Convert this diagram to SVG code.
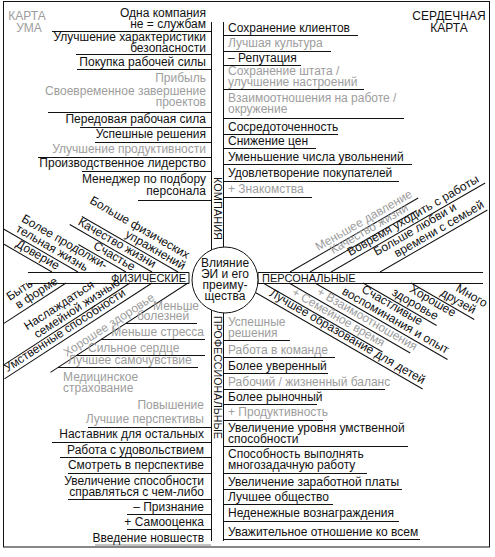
<svg xmlns="http://www.w3.org/2000/svg" width="495" height="557" viewBox="0 0 495 557">
<style>
text{font-family:"Liberation Sans",Arial,Helvetica,sans-serif;font-size:12px;fill:#111}
.g{fill:#9d9d9d}
.e{text-anchor:end}
.m{text-anchor:middle}
.s{font-size:11px}
#connectors line{stroke:#111;stroke-width:1}
#connectors line.gl{stroke:#888}
</style>
<rect width="495" height="557" fill="#fff"/>
<rect x="3.5" y="1.5" width="486" height="545.5" fill="none" stroke="#111"/>
<g id="connectors">
 <line x1="52" y1="31.5" x2="211" y2="31.5"/>
 <line x1="76" y1="54.5" x2="211" y2="54.5"/>
 <line x1="77" y1="69.5" x2="211" y2="69.5"/>
 <line x1="48" y1="112.5" x2="211" y2="112.5"/>
 <line x1="80" y1="127.5" x2="211" y2="127.5"/>
 <line x1="95" y1="142.5" x2="211" y2="142.5"/>
 <line x1="38" y1="157.5" x2="211" y2="157.5"/>
 <line x1="82" y1="171.5" x2="211" y2="171.5"/>
 <line x1="138" y1="200.5" x2="211" y2="200.5"/>
 <line x1="223" y1="35.5" x2="358" y2="35.5"/>
 <line x1="223" y1="51.5" x2="331" y2="51.5"/>
 <line x1="223" y1="65.5" x2="301" y2="65.5"/>
 <line x1="223" y1="89.5" x2="364" y2="89.5"/>
 <line x1="223" y1="118.5" x2="404" y2="118.5"/>
 <line x1="223" y1="134.5" x2="338" y2="134.5"/>
 <line x1="223" y1="148.5" x2="316" y2="148.5"/>
 <line x1="223" y1="164.5" x2="412" y2="164.5"/>
 <line x1="223" y1="181.5" x2="399" y2="181.5"/>
 <line x1="223" y1="197.5" x2="312" y2="197.5"/>
 <line x1="223" y1="340.5" x2="290" y2="340.5"/>
 <line x1="223" y1="357.5" x2="335" y2="357.5"/>
 <line x1="223" y1="373.5" x2="328" y2="373.5"/>
 <line x1="223" y1="389.5" x2="385" y2="389.5"/>
 <line x1="223" y1="404.5" x2="317" y2="404.5"/>
 <line x1="223" y1="420.5" x2="323" y2="420.5"/>
 <line x1="223" y1="446.5" x2="408" y2="446.5"/>
 <line x1="223" y1="473.5" x2="367" y2="473.5"/>
 <line x1="223" y1="489.5" x2="402" y2="489.5"/>
 <line x1="223" y1="504.5" x2="333" y2="504.5"/>
 <line x1="223" y1="521.5" x2="399" y2="521.5"/>
 <line x1="223" y1="539.5" x2="420" y2="539.5"/>
 <line x1="88" y1="427.5" x2="211" y2="427.5"/>
 <line x1="52" y1="442.5" x2="211" y2="442.5"/>
 <line x1="60" y1="457.5" x2="211" y2="457.5"/>
 <line x1="68" y1="473.5" x2="211" y2="473.5"/>
 <line x1="68" y1="499.5" x2="211" y2="499.5"/>
 <line x1="127" y1="514.5" x2="211" y2="514.5"/>
 <line x1="127" y1="529.5" x2="211" y2="529.5"/>
 <line class="gl" x1="95" y1="545" x2="211" y2="545"/>
 <line x1="126" y1="323.5" x2="197" y2="323.5"/>
 <line x1="101" y1="339.5" x2="205" y2="339.5"/>
 <line x1="76" y1="355.5" x2="205" y2="355.5"/>
 <line x1="58" y1="367.5" x2="198" y2="367.5"/>
 <line x1="211.5" y1="22" x2="211.5" y2="250"/>
 <line x1="223.5" y1="22" x2="223.5" y2="247"/>
 <line x1="211.5" y1="310" x2="211.5" y2="541"/>
 <line x1="223.5" y1="313" x2="223.5" y2="541"/>
 <line x1="28" y1="272.5" x2="189" y2="272.5"/>
 <line x1="28" y1="283.5" x2="189" y2="283.5"/>
 <line x1="189" y1="272.5" x2="189" y2="283.5"/>
 <line x1="258" y1="272.5" x2="483" y2="272.5"/>
 <line x1="258" y1="283.5" x2="483" y2="283.5"/>
 <line x1="258" y1="272.5" x2="258" y2="283.5"/>
 <line transform="translate(178,272) rotate(30)" x1="-111" y1="0" x2="0" y2="0"/>
 <line transform="translate(152,272) rotate(30)" x1="-95" y1="0" x2="0" y2="0"/>
 <line transform="translate(126,272) rotate(30)" x1="-55" y1="0" x2="0" y2="0"/>
 <line transform="translate(78,272) rotate(30)" x1="-85.5" y1="0" x2="0" y2="0"/>
 <line transform="translate(52,272) rotate(30)" x1="-55.4" y1="0" x2="0" y2="0"/>
 <line transform="translate(188,283) rotate(-33)" x1="-164" y1="0" x2="0" y2="0"/>
 <line transform="translate(152,283) rotate(-33)" x1="-176" y1="0" x2="0" y2="0"/>
 <line transform="translate(130,283) rotate(-33)" x1="-150" y1="0" x2="0" y2="0"/>
 <line transform="translate(66,283) rotate(-33)" x1="-74" y1="0" x2="0" y2="0"/>
 <line transform="translate(290,272) rotate(-30)" x1="0" y1="0" x2="148" y2="0"/>
 <line transform="translate(310,272) rotate(-30)" x1="0" y1="0" x2="123" y2="0"/>
 <line transform="translate(331,272) rotate(-30)" x1="0" y1="0" x2="178" y2="0"/>
 <line transform="translate(380,272) rotate(-30)" x1="0" y1="0" x2="124" y2="0"/>
 <line transform="translate(239,283) rotate(30)" x1="19" y1="0" x2="212" y2="0"/>
 <line transform="translate(263,283) rotate(30)" x1="0" y1="0" x2="138" y2="0"/>
 <line transform="translate(289,283) rotate(30)" x1="0" y1="0" x2="140" y2="0"/>
 <line transform="translate(315,283) rotate(30)" x1="0" y1="0" x2="153" y2="0"/>
 <line transform="translate(363,283) rotate(30)" x1="0" y1="0" x2="85" y2="0"/>
 <line transform="translate(411,283) rotate(30)" x1="0" y1="0" x2="73" y2="0"/>
</g>
<g id="title-mind"><text class="g m" x="27" y="20">КАРТА</text><text class="g m" x="29" y="32">УМА</text></g>
<g id="title-heart"><text class="m" x="449" y="20">СЕРДЕЧНАЯ</text><text class="m" x="449" y="32">КАРТА</text></g>
<g id="center"><circle cx="225" cy="280" r="33" fill="#fff" stroke="#111"/>
 <text class="m" x="225" y="267">Влияние</text><text class="m" x="225" y="278">ЭИ и его</text><text class="m" x="225" y="289">преиму-</text><text class="m" x="225" y="300">щества</text></g>
<g id="label-company"><text class="s" transform="translate(213.5,177) rotate(90)">КОМПАНИЯ</text></g>
<g id="label-prof"><text class="s" transform="translate(213.5,316) rotate(90)" textLength="123" lengthAdjust="spacingAndGlyphs">ПРОФЕССИОНАЛЬНЫЕ</text></g>
<g id="label-phys"><text class="s e" x="186" y="281.5">ФИЗИЧЕСКИЕ</text></g>
<g id="label-pers"><text class="s" x="262" y="281.5">ПЕРСОНАЛЬНЫЕ</text></g>
<g id="company-left">
 <g id="cl1"><text class="e" x="206" y="17">Одна компания</text><text class="e" x="206" y="28">не = службам</text></g>
 <g id="cl2"><text class="e" x="206" y="41">Улучшение характеристики</text><text class="e" x="206" y="52">безопасности</text></g>
 <g id="cl3"><text class="e" x="206" y="66">Покупка рабочей силы</text></g>
 <g id="cl4"><text class="e g" x="206" y="82">Прибыль</text></g>
 <g id="cl5"><text class="e g" x="206" y="95">Своевременное завершение</text><text class="e g" x="206" y="106">проектов</text></g>
 <g id="cl6"><text class="e" x="206" y="123">Передовая рабочая сила</text></g>
 <g id="cl7"><text class="e" x="206" y="138">Успешные решения</text></g>
 <g id="cl8"><text class="e g" x="206" y="153">Улучшение продуктивности</text></g>
 <g id="cl9"><text class="e" x="206" y="167">Производственное лидерство</text></g>
 <g id="cl10"><text class="e" x="206" y="183">Менеджер по подбору</text><text class="e" x="206" y="195">персонала</text></g>
</g>
<g id="company-right">
 <g id="cr1"><text x="228" y="32">Сохранение клиентов</text></g>
 <g id="cr2"><text class="g" x="228" y="47">Лучшая культура</text></g>
 <g id="cr3"><text x="228" y="62">– Репутация</text></g>
 <g id="cr4"><text class="g" x="228" y="75">Сохранение штата /</text><text class="g" x="228" y="86">улучшение настроений</text></g>
 <g id="cr5"><text class="g" x="228" y="102">Взаимоотношения на работе /</text><text class="g" x="228" y="113">окружение</text></g>
 <g id="cr6"><text x="228" y="131">Сосредоточенность</text></g>
 <g id="cr7"><text x="228" y="145">Снижение цен</text></g>
 <g id="cr8"><text x="228" y="161">Уменьшение числа увольнений</text></g>
 <g id="cr9"><text x="228" y="177">Удовлетворение покупателей</text></g>
 <g id="cr10"><text class="g" x="228" y="193">+ Знакомства</text></g>
</g>
<g id="prof-right">
 <g id="pr1"><text class="g" x="228" y="326">Успешные</text><text class="g" x="228" y="337">решения</text></g>
 <g id="pr2"><text class="g" x="228" y="354">Работа в команде</text></g>
 <g id="pr3"><text x="228" y="370">Более уверенный</text></g>
 <g id="pr4"><text class="g" x="228" y="386">Рабочий / жизненный баланс</text></g>
 <g id="pr5"><text x="228" y="401">Более рыночный</text></g>
 <g id="pr6"><text class="g" x="228" y="416">+ Продуктивность</text></g>
 <g id="pr7"><text x="228" y="432">Увеличение уровня умственной</text><text x="228" y="443">способности</text></g>
 <g id="pr8"><text x="228" y="458">Способность выполнять</text><text x="228" y="469">многозадачную работу</text></g>
 <g id="pr9"><text x="228" y="486">Увеличение заработной платы</text></g>
 <g id="pr10"><text x="228" y="501">Лучшее общество</text></g>
 <g id="pr11"><text x="228" y="517">Неденежные вознаграждения</text></g>
 <g id="pr12"><text x="228" y="536">Уважительное отношение ко всем</text></g>
</g>
<g id="prof-left">
 <g id="pl1"><text class="e g" x="204" y="409">Повышение</text></g>
 <g id="pl2"><text class="e g" x="204" y="423">Лучшие перспективы</text></g>
 <g id="pl3"><text class="e" x="204" y="438">Наставник для остальных</text></g>
 <g id="pl4"><text class="e" x="204" y="454">Работа с удовольствием</text></g>
 <g id="pl5"><text class="e" x="204" y="469">Смотреть в перспективе</text></g>
 <g id="pl6"><text class="e" x="204" y="485">Увеличение способности</text><text class="e" x="204" y="496">справляться с чем-либо</text></g>
 <g id="pl7"><text class="e" x="204" y="511">– Признание</text></g>
 <g id="pl8"><text class="e" x="204" y="526">+ Самооценка</text></g>
 <g id="pl9"><text class="e" x="204" y="542">Введение новшеств</text></g>
</g>
<g id="health">
 <g id="h1"><text class="g" x="153" y="310">Меньше</text><text class="g" x="137" y="320">болезней</text></g>
 <g id="h2"><text class="g e" x="204" y="336">Меньше стресса</text></g>
 <g id="h3"><text class="g" x="88" y="352">Сильное сердце</text></g>
 <g id="h4"><text class="g" x="68" y="364">Лучшее самочувствие</text></g>
 <g id="h5"><text class="g" x="63" y="381">Медицинское</text><text class="g" x="63" y="392">страхование</text></g>
</g>
<g id="phys-upper">
 <g id="pu1" transform="translate(178,272) rotate(30)"><text class="e" x="1" y="-15.5">Больше физических</text><text class="e" x="3" y="-4">упражнений</text></g>
 <g id="pu2" transform="translate(152,272) rotate(30)"><text class="e" x="-1" y="-4">Качество жизни</text></g>
 <g id="pu3" transform="translate(126,272) rotate(30)"><text class="e" x="5" y="-4">Счастье</text></g>
 <g id="pu4" transform="translate(78,272) rotate(30)"><text x="-75" y="-15.5">Более продолжи-</text><text x="-75" y="-4">тельная жизнь</text></g>
 <g id="pu5" transform="translate(52,272) rotate(30)"><text x="-45" y="-4">Доверие</text></g>
</g>
<g id="phys-lower">
 <g id="pd1" transform="translate(188,283) rotate(-33)"><text class="g" x="-142" y="-4">Хорошее здоровье</text></g>
 <g id="pd2" transform="translate(152,283) rotate(-33)"><text x="-170" y="-4">Умственные способности</text></g>
 <g id="pd3" transform="translate(130,283) rotate(-33)"><text x="-112" y="-16">Наслаждаться</text><text x="-108" y="-4">семейной жизнью</text></g>
 <g id="pd4" transform="translate(66,283) rotate(-33)"><text x="-57" y="-15.5">Быть</text><text x="-54" y="-4">в форме</text></g>
</g>
<g id="pers-upper">
 <g id="su1" transform="translate(290,272) rotate(-30)"><text class="g" x="35" y="-4">Меньшее давление</text></g>
 <g id="su2" transform="translate(310,272) rotate(-30)"><text class="g" x="29" y="-4">Качество жизни</text></g>
 <g id="su3" transform="translate(331,272) rotate(-30)"><text x="24.5" y="-4">Вовремя уходить с работы</text></g>
 <g id="su4" transform="translate(380,272) rotate(-30)"><text x="5" y="-15.5">Больше любви и</text><text x="22" y="-4">времени с семьей</text></g>
</g>
<g id="pers-lower">
 <g id="sl1" transform="translate(239,283) rotate(30)"><text x="32" y="-4">Лучшее образование для детей</text></g>
 <g id="sl2" transform="translate(263,283) rotate(30)"><text class="g" x="30" y="-4">+ Семейное время</text></g>
 <g id="sl3" transform="translate(289,283) rotate(30)"><text class="g" x="29" y="-4">+ Взаимоотношения</text></g>
 <g id="sl4" transform="translate(315,283) rotate(30)"><text x="44" y="-15.5">Счастливые</text><text x="28" y="-4">воспоминания и опыт</text></g>
 <g id="sl5" transform="translate(363,283) rotate(30)"><text x="44" y="-15.5">Хорошее</text><text x="30" y="-4">здоровье</text></g>
 <g id="sl6" transform="translate(411,283) rotate(30)"><text x="42" y="-15.5">Много</text><text x="31" y="-4">друзей</text></g>
</g>
</svg>
